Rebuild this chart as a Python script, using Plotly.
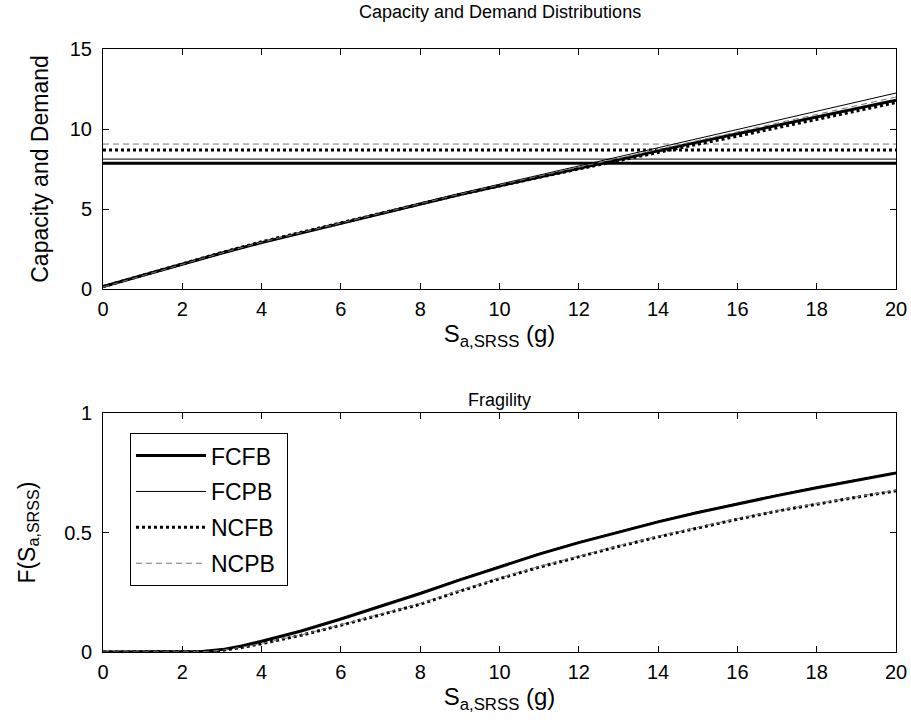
import plotly.graph_objects as go

# ---- data ----
sa = list(range(0, 21))
demand_fcfb = [0.15, 0.85, 1.55, 2.25, 2.9, 3.5, 4.1, 4.7, 5.3, 5.9, 6.45, 7.0, 7.55, 8.1, 8.65, 9.18, 9.7, 10.22, 10.75, 11.27, 11.8]
demand_fcpb = [0.12, 0.82, 1.52, 2.22, 2.9, 3.52, 4.15, 4.77, 5.38, 5.98, 6.55, 7.12, 7.7, 8.27, 8.85, 9.4, 9.95, 10.52, 11.1, 11.67, 12.25]
demand_ncfb = [0.15, 0.87, 1.58, 2.28, 2.95, 3.55, 4.15, 4.73, 5.32, 5.9, 6.45, 6.98, 7.5, 8.03, 8.55, 9.05, 9.55, 10.07, 10.6, 11.12, 11.65]
demand_ncpb = [0.12, 0.84, 1.55, 2.25, 2.92, 3.53, 4.13, 4.73, 5.33, 5.93, 6.5, 7.06, 7.62, 8.18, 8.75, 9.28, 9.82, 10.36, 10.9, 11.45, 12.0]

cap_x = [0, 20]
capacity_fcfb = 7.86
capacity_fcpb = 8.12
capacity_ncfb = 8.69
capacity_ncpb = 9.06

sa_f = [0, 1, 2, 2.5, 3, 3.5, 4, 5, 6, 7, 8, 9, 10, 11, 12, 13, 14, 15, 16, 17, 18, 19, 20]
frag_fcfb = [0, 0, 0, 0.002, 0.01, 0.025, 0.045, 0.088, 0.138, 0.19, 0.245, 0.302, 0.357, 0.41, 0.458, 0.503, 0.545, 0.584, 0.62, 0.655, 0.688, 0.72, 0.75]
frag_fcpb = [0, 0, 0, 0.002, 0.011, 0.026, 0.046, 0.09, 0.14, 0.193, 0.248, 0.305, 0.36, 0.413, 0.461, 0.506, 0.548, 0.587, 0.623, 0.658, 0.691, 0.722, 0.752]
frag_ncfb = [0, 0, 0, 0.001, 0.007, 0.019, 0.035, 0.07, 0.112, 0.155, 0.2, 0.255, 0.307, 0.355, 0.40, 0.442, 0.482, 0.52, 0.556, 0.59, 0.62, 0.648, 0.675]
frag_ncpb = [0, 0, 0, 0.001, 0.008, 0.02, 0.036, 0.072, 0.114, 0.158, 0.203, 0.258, 0.31, 0.358, 0.403, 0.445, 0.485, 0.523, 0.559, 0.592, 0.622, 0.65, 0.677]

x_ticks = [0, 2, 4, 6, 8, 10, 12, 14, 16, 18, 20]
y1_ticks = [0, 5, 10, 15]
y2_ticks = [0, 0.5, 1]
y2_ticklabels = ["0", "0.5", "1"]

names = ["FCFB", "FCPB", "NCFB", "NCPB"]
styles = [
    dict(color="black", width=3, dash="solid"),
    dict(color="black", width=1, dash="solid"),
    dict(color="black", width=3, dash="3px,3px"),
    dict(color="#777777", width=1, dash="6px,4px"),
]

fig = go.Figure()

demands = [demand_fcfb, demand_fcpb, demand_ncfb, demand_ncpb]
caps = [capacity_fcfb, capacity_fcpb, capacity_ncfb, capacity_ncpb]
frags = [frag_fcfb, frag_fcpb, frag_ncfb, frag_ncpb]

for n, st, cap in zip(names, styles, caps):
    fig.add_trace(go.Scatter(x=cap_x, y=[cap, cap], mode="lines", line=st,
                             showlegend=False, xaxis="x", yaxis="y"))
for n, st, d in zip(names, styles, demands):
    fig.add_trace(go.Scatter(x=sa, y=d, mode="lines", line=st,
                             showlegend=False, xaxis="x", yaxis="y"))
for n, st, f in zip(names, styles, frags):
    fig.add_trace(go.Scatter(x=sa_f, y=f, mode="lines", line=st,
                             name=n + "\u00a0",
                             legendgroup=n, showlegend=True, xaxis="x2", yaxis="y2"))

axis_common = dict(showline=True, linecolor="black", linewidth=1, mirror="ticks",
                   ticks="inside", ticklen=6, tickcolor="black", showgrid=False,
                   zeroline=False, automargin=False,
                   tickfont=dict(size=20, color="black"))

font_family = "Liberation Sans, Arial, sans-serif"
xtitle = "S<sub>a,SRSS</sub> (g)"

fig.update_layout(
    width=911, height=726,
    margin=dict(l=103, r=15, t=49, b=74),
    paper_bgcolor="white", plot_bgcolor="white",
    font=dict(family=font_family, color="black", size=20),
    xaxis=dict(domain=[0, 1], range=[0, 20], tickvals=x_ticks, anchor="y",
               ticklabelstandoff=2,
               title=dict(text=xtitle, font=dict(size=24), standoff=3),
               **axis_common),
    yaxis=dict(domain=[0.602, 1], range=[0, 15], tickvals=y1_ticks, anchor="x",
               ticklabelstandoff=6,
               title=dict(text="Capacity and Demand", font=dict(size=23), standoff=14),
               **axis_common),
    xaxis2=dict(domain=[0, 1], range=[0, 20], tickvals=x_ticks, anchor="y2",
                ticklabelstandoff=2,
                title=dict(text=xtitle, font=dict(size=24), standoff=3),
                **axis_common),
    yaxis2=dict(domain=[0, 0.396], range=[0, 1], tickvals=y2_ticks,
                ticktext=y2_ticklabels, anchor="x2", ticklabelstandoff=6,
                title=dict(text="F(S<sub>a,SRSS</sub>)", font=dict(size=23), standoff=22),
                **axis_common),
    legend=dict(x=0.034, y=0.363, xanchor="left", yanchor="top",
                bordercolor="black", borderwidth=1, bgcolor="white",
                font=dict(size=23, color="black"), tracegroupgap=3,
                itemwidth=70),
    annotations=[
        dict(text="Capacity and Demand Distributions", xref="paper", yref="paper",
             x=0.5, y=1.0, yshift=37, xanchor="center", yanchor="middle",
             showarrow=False, font=dict(size=18)),
        dict(text="Fragility", xref="paper", yref="paper",
             x=0.5, y=0.396, yshift=13, xanchor="center", yanchor="middle",
             showarrow=False, font=dict(size=18)),
    ],
)

fig.write_html("out.html", config={"displayModeBar": False},
               post_script="document.body.style.margin='0';document.body.style.overflow='hidden';")
